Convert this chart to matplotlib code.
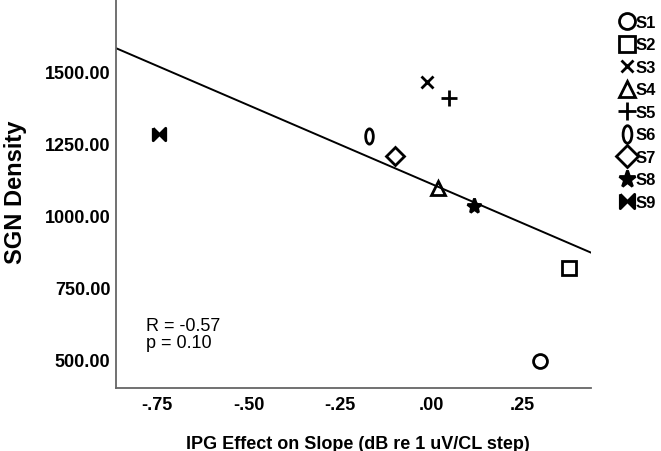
import matplotlib
matplotlib.use("Agg")
import matplotlib.pyplot as plt
import numpy as np
from matplotlib.path import Path
from matplotlib.transforms import Affine2D

plt.rcParams['font.family'] = ['Liberation Sans', 'DejaVu Sans']

# data
subjects = ["S1", "S2", "S3", "S4", "S5", "S6", "S7", "S8", "S9"]
ipg_slope = [0.299, 0.378, -0.011, 0.019, 0.049, -0.170, -0.099, 0.118, -0.745]
sgn_density = [494, 817, 1462, 1094, 1406, 1275, 1205, 1032, 1282]
x_ticks = [-0.75, -0.50, -0.25, 0.00, 0.25]
y_ticks = [500, 750, 1000, 1250, 1500]

# marker shapes
ellipse = Path.unit_circle().transformed(Affine2D().scale(0.5, 1.0))
bowtie = [(-1, 1), (0, 0), (1, 1), (1, -1), (0, 0), (-1, -1), (-1, 1)]
mks = ["o", "s", "x", "^", "+", ellipse, "D", "*", bowtie]
sizes = [10, 10, 8, 10, 11, 11, 9.5, 11, 9]
filled = [False, False, True, False, True, False, False, True, True]

fig = plt.figure(figsize=(6.61, 4.52), dpi=100)
ax = fig.add_axes([0.1755, 0.1394, 0.7185, 0.8606])

for i in range(len(subjects)):
    ax.plot(ipg_slope[i], sgn_density[i], linestyle="none", marker=mks[i],
            markersize=sizes[i], markeredgewidth=2.0, color="black",
            markerfacecolor="black" if filled[i] else "none",
            markeredgecolor="black", label=subjects[i], clip_on=False)

ax.set_xlim(-0.863, 0.438)
ax.set_ylim(400, 1750)

# least squares fit line
b, a = np.polyfit(ipg_slope, sgn_density, 1)
xx = np.array(ax.get_xlim())
ax.plot(xx, a + b * xx, color="black", lw=1.4)

ax.text(0.063, 0.139, "R = -0.57\np = 0.10", transform=ax.transAxes,
        fontsize=13, linespacing=1.0, va="center", ha="left")

ax.set_xticks(x_ticks)
ax.set_xticklabels([f"{v:.2f}".replace("0.", ".") for v in x_ticks],
                   fontsize=13, fontweight="bold")
ax.set_yticks(y_ticks)
ax.set_yticklabels([f"{v:.2f}" for v in y_ticks], fontsize=13, fontweight="bold")
ax.tick_params(axis="both", length=0)
ax.tick_params(axis="x", pad=6)
ax.tick_params(axis="y", pad=4)

for s in ["top", "right"]:
    ax.spines[s].set_visible(False)
for s in ["left", "bottom"]:
    ax.spines[s].set_color("#666666")
    ax.spines[s].set_linewidth(1.3)

ax.set_xlabel("IPG Effect on Slope (dB re 1 uV/CL step)", fontsize=13, fontweight="bold")
ax.set_ylabel("SGN Density", fontsize=17, fontweight="bold")
ax.xaxis.set_label_coords(0.51, -0.121)
ax.yaxis.set_label_coords(-0.187, 0.505)

handles, labels = ax.get_legend_handles_labels()
ax.legend(handles, labels, loc="upper left", bbox_to_anchor=(1.028, 1.0),
          frameon=False, prop={"size": 12, "weight": "bold"},
          handlelength=0.8, handletextpad=0.15,
          labelspacing=0.45, markerscale=1.15, borderaxespad=0.55)

fig.savefig("out.png", dpi=100)
